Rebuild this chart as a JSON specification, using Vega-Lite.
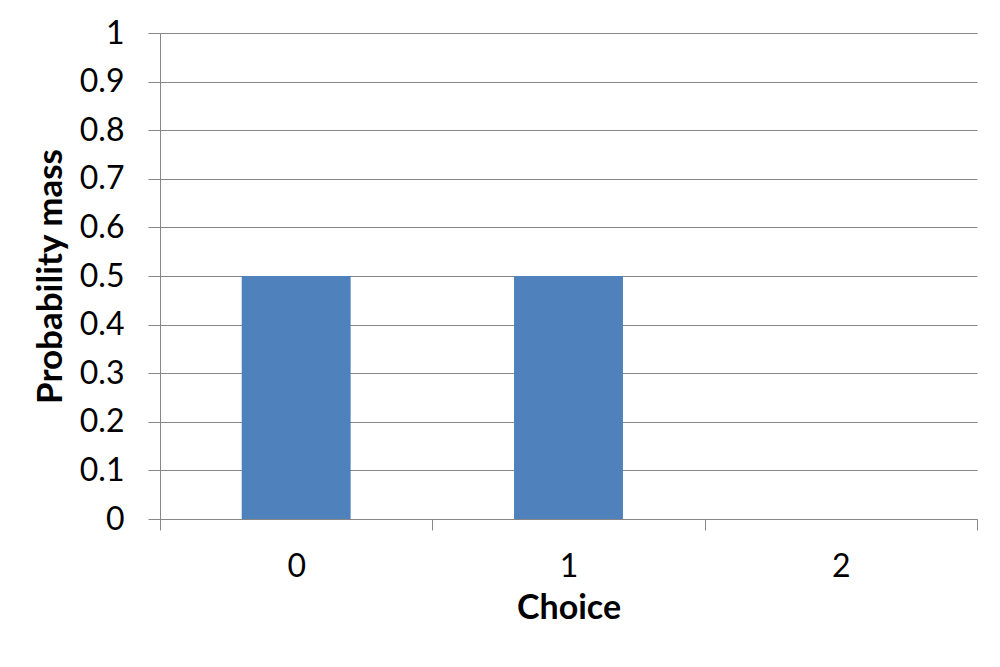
{
  "$schema": "https://vega.github.io/schema/vega-lite/v6.json",
  "width": 817,
  "height": 486,
  "autosize": "none",
  "padding": {"left": 160, "top": 33, "right": 23, "bottom": 148},
  "background": "white",
  "data": {"values": [
    {"choice": "0", "p": 0.5},
    {"choice": "1", "p": 0.5},
    {"choice": "2", "p": 0}
  ]},
  "mark": {"type": "bar", "color": "#4F81BD", "width": {"band": 0.4}},
  "encoding": {
    "x": {
      "field": "choice", "type": "nominal", "sort": null,
      "scale": {"paddingInner": 0, "paddingOuter": 0},
      "axis": {
        "title": "Choice", "labelAngle": 0, "tickBand": "extent",
        "tickSize": 11, "tickColor": "#868686", "domainColor": "#868686",
        "labelFont": "Lato", "labelFontSize": 32, "labelColor": "black", "labelPadding": 21,
        "titleFont": "Lato", "titleFontSize": 34, "titleFontWeight": "bold", "titleColor": "black", "titlePadding": 9
      }
    },
    "y": {
      "field": "p", "type": "quantitative",
      "scale": {"domain": [0, 1], "nice": false},
      "axis": {
        "title": "Probability mass", "values": [0, 0.1, 0.2, 0.3, 0.4, 0.5, 0.6, 0.7, 0.8, 0.9, 1],
        "format": "~g", "tickSize": 12, "tickColor": "#868686", "domainColor": "#868686",
        "gridColor": "#868686", "gridWidth": 1,
        "labelFont": "Lato", "labelFontSize": 32, "labelColor": "black", "labelPadding": 24,
        "titleFont": "Lato", "titleFontSize": 35, "titleFontWeight": "bold", "titleColor": "black", "titlePadding": 11
      }
    }
  },
  "config": {"view": {"stroke": null}, "axis": {"labelOverlap": false}}
}
